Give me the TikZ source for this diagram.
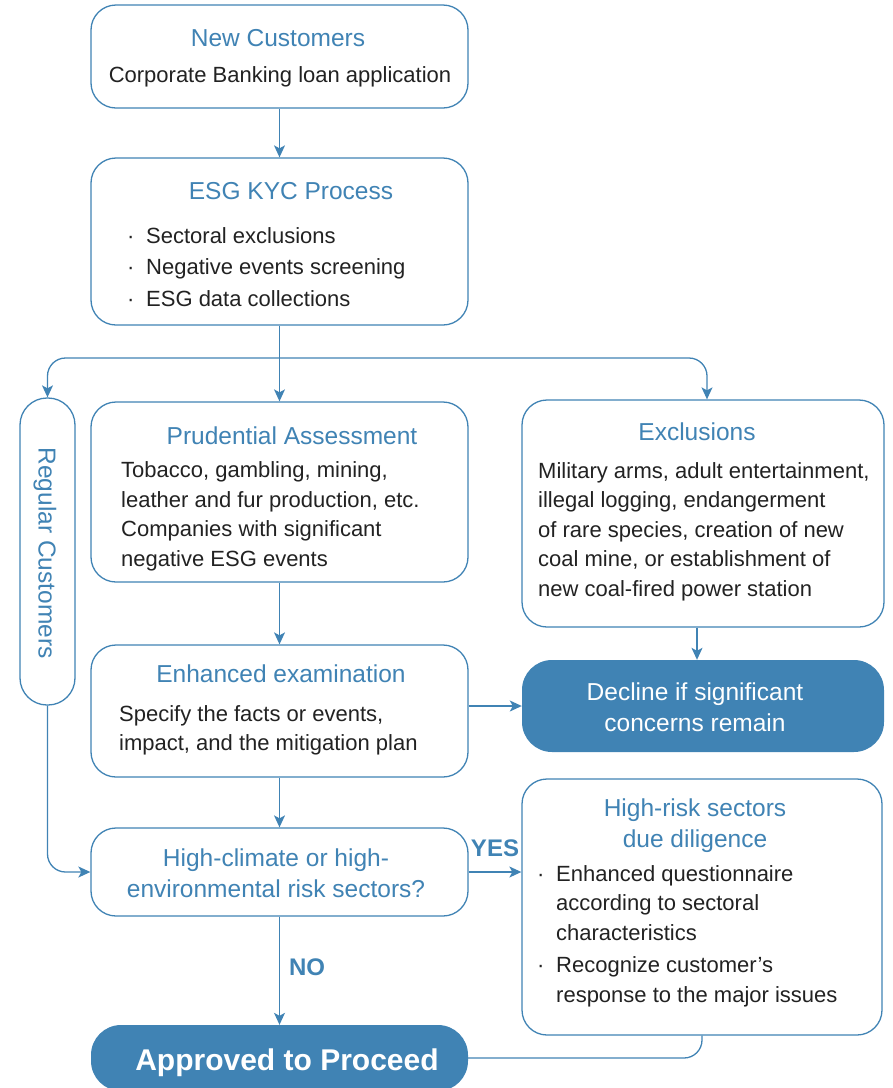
\documentclass[tikz,border=0pt]{standalone}
\usepackage{fontspec}
\setmainfont{Liberation Sans}
\usetikzlibrary{arrows.meta,positioning}
\definecolor{esgblue}{HTML}{4083B4}
\definecolor{bodygray}{HTML}{222222}
\newcommand{\dotitem}{\makebox[19pt][l]{\textperiodcentered}}
\newcommand{\dotgap}{\hspace*{19pt}}

\begin{document}
\begin{tikzpicture}[x=1pt,y=-1pt,
  main box/.style={draw=esgblue,line width=1.3pt,rounded corners=25pt,fill=white,inner sep=0pt},
  fill box/.style={fill=esgblue,rounded corners=30pt,inner sep=0pt},
  title text/.style={text=esgblue,font=\fontsize{24.5}{31}\selectfont,inner sep=0pt,align=center},
  body text/.style={text=bodygray,font=\fontsize{22}{29.5}\selectfont,inner sep=0pt,align=left,anchor=west},
  white text/.style={text=white,font=\fontsize{24.5}{31}\selectfont,inner sep=0pt,align=center},
  answer/.style={text=esgblue,font=\fontsize{24}{28}\selectfont\bfseries,inner sep=0pt},
  flow/.style={draw=esgblue,line width=1.3pt,-{Stealth[length=12pt,width=11pt,inset=3pt]}},
  link/.style={draw=esgblue,line width=1.3pt}]
  \useasboundingbox (0,0) rectangle (893,1088);

  % boxes
  \node[main box,minimum width=377pt,minimum height=103pt] (newc) at (279.5,56.5) {};
  \node[main box,minimum width=377pt,minimum height=167pt] (kyc) at (279.5,241.5) {};
  \node[main box,minimum width=55pt,minimum height=307pt,rounded corners=27pt] (regc) at (47.5,551.5) {};
  \node[main box,minimum width=377pt,minimum height=180pt] (prud) at (279.5,492) {};
  \node[main box,minimum width=362pt,minimum height=227pt] (excl) at (703,513.5) {};
  \node[main box,minimum width=377pt,minimum height=132pt] (enh) at (279.5,711) {};
  \node[fill box,minimum width=362pt,minimum height=92pt] (decl) at (703,706) {};
  \node[main box,minimum width=377pt,minimum height=88pt] (hc) at (279.5,872) {};
  \node[main box,minimum width=360pt,minimum height=256pt] (hr) at (702,907) {};
  \node[fill box,minimum width=377pt,minimum height=66pt,rounded corners=30pt] (appr) at (279.5,1058) {};

  % texts
  \node[title text] (newctitle) at (278,38) {New Customers};
  \node[body text,anchor=center] (newcbody) at (280,76.5) {Corporate Banking loan application};

  \node[title text] (kyctitle) at (291,191) {ESG KYC Process};
  \node[body text,font=\fontsize{22}{31.5}\selectfont] (kycitems) at (127,267)
    {\dotitem Sectoral exclusions\\ \dotitem Negative events screening\\ \dotitem ESG data collections};

  \node[title text,rotate=-90] (regctxt) at (45,553) {Regular Customers};

  \node[title text] (prudtitle) at (292,436) {Prudential Assessment};
  \node[body text] (prudbody) at (121,516.5)
    {Tobacco, gambling, mining,\\ leather and fur production, etc.\\ Companies with significant\\ negative ESG events};

  \node[title text] (excltitle) at (697,432) {Exclusions};
  \node[body text] (exclbody) at (538,531.5)
    {Military arms, adult entertainment,\\ illegal logging, endangerment\\ of rare species, creation of new\\ coal mine, or establishment of\\ new coal-fired power station};

  \node[title text] (enhtitle) at (281,674) {Enhanced examination};
  \node[body text] (enhbody) at (119,730.5)
    {Specify the facts or events,\\ impact, and the mitigation plan};

  \node[white text] (decltxt) at (695,707.5) {Decline if significant\\ concerns remain};

  \node[title text] (hctxt) at (276,873.5) {High-climate or high-\\ environmental risk sectors?};

  \node[title text] (hrtitle) at (695,825.5) {High-risk sectors\\ due diligence};
  \node[body text] (hritems) at (537,936)
    {\dotitem Enhanced questionnaire\\ \dotgap according to sectoral\\ \dotgap characteristics\\[3pt]
     \dotitem Recognize customer's\\ \dotgap response to the major issues};

  \node[white text,font=\fontsize{30}{34}\selectfont\bfseries] (apprtxt) at (287,1062.5) {Approved to Proceed};

  % connectors
  \coordinate (split) at (279.5,358);
  \draw[flow] (newc) -- (kyc);
  \draw[link] (kyc.south) -- (split);
  \draw[flow] (split) -- (prud);
  \draw[flow,rounded corners=18pt] (split) -| (regc.north);
  \draw[flow,rounded corners=18pt] (split) -| ([xshift=4pt]excl.north);
  \draw[flow] (prud) -- (enh);
  \draw[flow] ([xshift=-6pt]excl.south) -- ([xshift=-6pt]decl.north);
  \draw[flow] (enh.east |- decl.west) -- (decl.west);
  \draw[flow] (enh) -- (hc);
  \draw[flow,rounded corners=18pt] (regc.south) |- (hc.west);
  \draw[flow] (hc.east) -- (hc.east -| hr.west) node[answer,midway,above=15pt] (yes) {YES};
  \draw[flow] (hc) -- (appr) node[answer,midway,right=9pt,yshift=4pt] (no) {NO};
  \draw[link,rounded corners=18pt] (hr.south) |- (appr.east);
\end{tikzpicture}
\end{document}
